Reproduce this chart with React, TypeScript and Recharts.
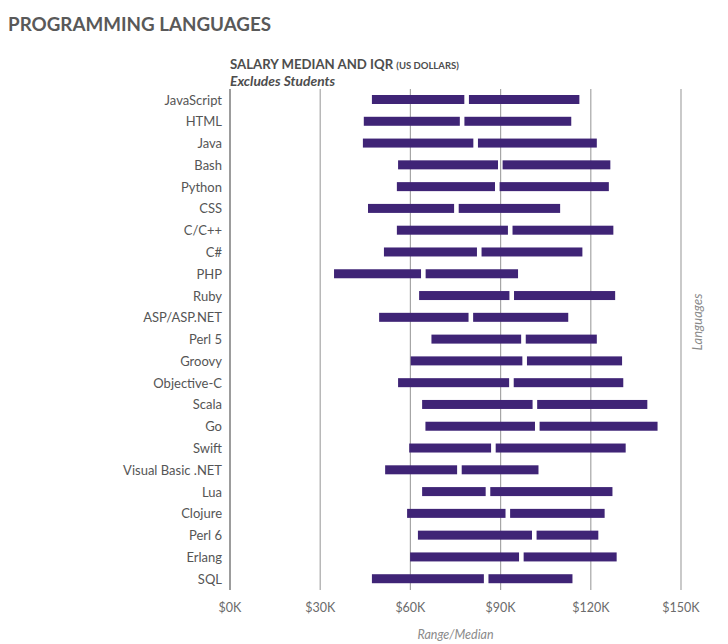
import { BarChart, Bar, XAxis, YAxis, CartesianGrid } from 'recharts';

const languages = [
  'JavaScript', 'HTML', 'Java', 'Bash', 'Python', 'CSS', 'C/C++', 'C#', 'PHP', 'Ruby',
  'ASP/ASP.NET', 'Perl 5', 'Groovy', 'Objective-C', 'Scala', 'Go', 'Swift',
  'Visual Basic .NET', 'Lua', 'Clojure', 'Perl 6', 'Erlang', 'SQL',
];
// salary in $K
const q1 = [47.2, 44.5, 44.2, 55.9, 55.5, 45.9, 55.5, 51.2, 34.6, 62.9, 49.6, 67.0, 60.1, 55.9, 63.9, 65.0, 59.6, 51.6, 63.9, 58.9, 62.5, 59.9, 47.2];
const median = [78.7, 77.2, 81.7, 89.9, 88.9, 75.3, 93.2, 82.9, 64.3, 93.7, 80.1, 97.6, 98.0, 93.6, 101.4, 102.2, 87.6, 76.3, 85.8, 92.4, 101.2, 96.9, 85.2];
const q3 = [116.2, 113.5, 122.0, 126.5, 126.0, 109.8, 127.5, 117.2, 95.8, 128.1, 112.5, 122.0, 130.4, 130.8, 138.8, 142.2, 131.6, 102.6, 127.2, 124.6, 122.5, 128.6, 113.9];
const xTicks = [0, 30, 60, 90, 120, 150];

const data = languages.map((name, i) => ({
  name,
  base: q1[i],
  lower: median[i] - q1[i],
  upper: q3[i] - median[i],
}));

const BAR = '#3f2476';
const GAP = 2.3;
const FONT = 'Lato, "Open Sans", sans-serif';

const LeftSeg = (p: any) => (
  <rect x={p.x} y={p.y} width={Math.max(0, p.width - GAP)} height={p.height} fill={BAR} />
);
const RightSeg = (p: any) => (
  <rect x={p.x + GAP} y={p.y} width={Math.max(0, p.width - GAP)} height={p.height} fill={BAR} />
);

export default function App() {
  return (
    <div style={{ position: 'relative', width: 712, height: 636, fontFamily: FONT, background: '#fff' }}>
      <div style={{ position: 'absolute', left: 0, top: 4, fontSize: 18.8, fontWeight: 700, color: '#595959' }}>
        PROGRAMMING LANGUAGES
      </div>
      <div style={{ position: 'absolute', left: 222, top: 49, lineHeight: '14px', fontSize: 13.2, fontWeight: 700, color: '#4d4d4d', whiteSpace: 'nowrap' }}>
        SALARY MEDIAN AND IQR <span style={{ fontSize: 9.5 }}>(US DOLLARS)</span>
      </div>
      <div style={{ position: 'absolute', left: 222, top: 66, lineHeight: '14px', fontSize: 13.8, fontWeight: 700, fontStyle: 'italic', color: '#4d4d4d', whiteSpace: 'nowrap' }}>
        Excludes Students
      </div>
      <div style={{ position: 'absolute', left: 689, top: 314, width: 0, height: 0 }}>
        <div style={{ position: 'absolute', transform: 'translate(-50%, -50%) rotate(-90deg)', fontSize: 13, fontStyle: 'italic', color: '#8a8a8a', whiteSpace: 'nowrap' }}>
          Languages
        </div>
      </div>
      <BarChart
        width={712}
        height={636}
        data={data}
        layout="vertical"
        margin={{ top: 81, right: 39, left: 0, bottom: 8 }}
        barSize={9}
        style={{ position: 'absolute', left: 0, top: 0 }}
      >
        <CartesianGrid horizontal={false} stroke="#a6a6a6" strokeWidth={1.2} />
        <XAxis
          type="number"
          domain={[0, 150]}
          ticks={xTicks}
          tickFormatter={(v) => `$${v}K`}
          axisLine={false}
          tickLine={false}
          height={46}
          tickMargin={7}
          tick={{ fontSize: 12.5, fill: '#6b6b6b', fontFamily: FONT }}
          label={{ value: 'Range/Median', position: 'insideBottom', offset: -3, fontSize: 12.5, fontStyle: 'italic', fill: '#8a8a8a', fontFamily: FONT }}
        />
        <YAxis
          type="category"
          dataKey="name"
          width={222}
          axisLine={{ stroke: '#8c8c8c', strokeWidth: 1.5 }}
          tickLine={false}
          tickMargin={2}
          interval={0}
          tick={{ fontSize: 13, fill: '#555', fontFamily: FONT }}
        />
        <Bar dataKey="base" stackId="s" fill="transparent" isAnimationActive={false} />
        <Bar dataKey="lower" stackId="s" fill={BAR} shape={LeftSeg} isAnimationActive={false} />
        <Bar dataKey="upper" stackId="s" fill={BAR} shape={RightSeg} isAnimationActive={false} />
      </BarChart>
    </div>
  );
}
